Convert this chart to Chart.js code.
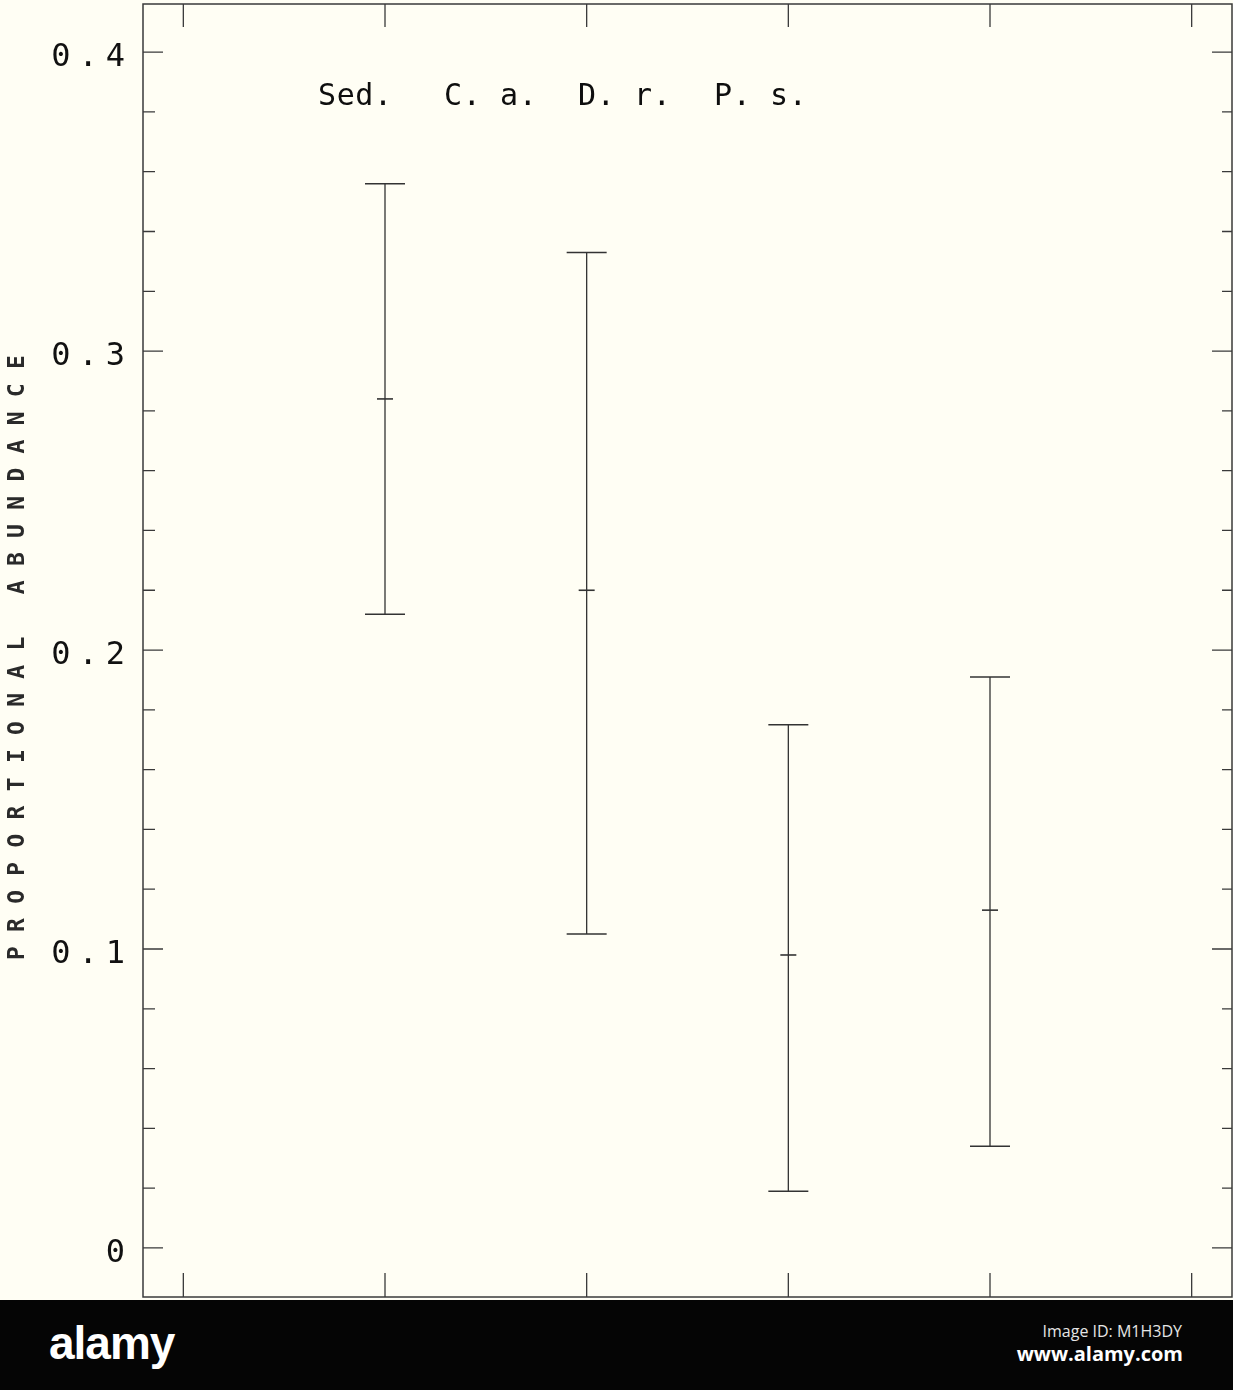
<!DOCTYPE html>
<html>
<head>
<meta charset="utf-8">
<script src="https://cdn.jsdelivr.net/npm/chart.js@4/dist/chart.umd.min.js"></script>
<style>
  html, body { margin: 0; padding: 0; background: #fffef4; }
  #wrap { position: relative; width: 1233px; height: 1300px; }
  #footer { position: relative; width: 1233px; height: 90px; background: #050505; overflow: hidden; }
  #footer .logo { position: absolute; left: 49px; top: 20px; font: bold 46px "Liberation Sans Narrow", "Liberation Sans", sans-serif; line-height: 1; color: #fff; letter-spacing: -1px; }
  #footer .id { position: absolute; right: 51px; top: 23px; font: 16px "Open Sans", sans-serif; line-height: 1; color: #e6e6e6; }
  #footer .url { position: absolute; right: 50px; top: 44px; font: bold 20px "Open Sans", sans-serif; line-height: 1; color: #fff; }
</style>
</head>
<body>
<div id="wrap"><canvas id="chart"></canvas></div>
<div id="footer">
  <div class="logo">alamy</div>
  <div class="id">Image ID: M1H3DY</div>
  <div class="url">www.alamy.com</div>
</div>
<script>
//groups and their interval values
const categories = ["Sed.", "C. a.", "D. r.", "P. s."];
const xPositions = [1, 2, 3, 4];
const upperValues = [0.356, 0.333, 0.175, 0.191];
const meanValues = [0.284, 0.220, 0.098, 0.113];
const lowerValues = [0.212, 0.105, 0.019, 0.034];

//axis ticks
const yTickLabels = [0, 0.1, 0.2, 0.3, 0.4];
const yMinorStep = 0.02;
const xTickValues = [0, 1, 2, 3, 4, 5];

const BG = "#fffef4";
const INK = "#333333";
const MONO = "DejaVu Sans Mono";

//canvas letter spacing around a draw call (plotter font is widely spaced)
function spaced(ctx, px, draw) {
  const prev = ctx.letterSpacing;
  ctx.letterSpacing = px + "px";
  draw();
  ctx.letterSpacing = prev || "0px";
}

//frame, inward ticks and group names
const plotterFrame = {
  id: "plotterFrame",
  beforeDraw(chart) {
    const { ctx } = chart;
    ctx.save();
    ctx.fillStyle = BG;
    ctx.fillRect(0, 0, chart.width, chart.height);
    ctx.restore();

    const y = chart.scales.y;
    if (!y.__spaced) {
      const labels = y.drawLabels;
      const title = y.drawTitle;
      y.drawLabels = function (area) { spaced(chart.ctx, 8, () => labels.call(this, area)); };
      y.drawTitle = function () { spaced(chart.ctx, 14.3, () => title.call(this)); };
      y.__spaced = true;
    }
  },
  afterDraw(chart) {
    const { ctx, chartArea: a, scales: { x, y } } = chart;
    ctx.save();
    ctx.strokeStyle = "#3a3a3a";
    ctx.lineWidth = 1.5;
    ctx.strokeRect(a.left, a.top, a.right - a.left, a.bottom - a.top);

    ctx.lineWidth = 1.3;
    ctx.beginPath();
    //major y ticks both sides
    yTickLabels.forEach((v) => {
      const py = y.getPixelForValue(v);
      ctx.moveTo(a.left, py); ctx.lineTo(a.left + 20, py);
      ctx.moveTo(a.right, py); ctx.lineTo(a.right - 20, py);
    });
    //minor y ticks
    for (let k = 1; k * yMinorStep < y.max; k++) {
      if (k % 5 === 0) continue;
      const py = y.getPixelForValue(k * yMinorStep);
      ctx.moveTo(a.left, py); ctx.lineTo(a.left + 12, py);
      ctx.moveTo(a.right, py); ctx.lineTo(a.right - 10, py);
    }
    //x ticks top and bottom
    xTickValues.forEach((v) => {
      const px = x.getPixelForValue(v);
      ctx.moveTo(px, a.top); ctx.lineTo(px, a.top + 23);
      ctx.moveTo(px, a.bottom); ctx.lineTo(px, a.bottom - 24);
    });
    ctx.stroke();

    //group names across the top
    const labelLeft = [318, 444, 578, 714];
    ctx.fillStyle = "#0e0e0e";
    ctx.font = "30px '" + MONO + "'";
    ctx.textAlign = "left";
    ctx.textBaseline = "alphabetic";
    spaced(ctx, 0.6, () => {
      categories.forEach((c, i) => ctx.fillText(c, labelLeft[i], 105));
    });
    ctx.restore();
  },
};

//vertical whiskers, broken between groups by null points
const whiskerData = [];
xPositions.forEach((xv, i) => {
  whiskerData.push({ x: xv, y: lowerValues[i] });
  whiskerData.push({ x: xv, y: upperValues[i] });
  whiskerData.push({ x: xv, y: null });
});

const capData = [];
xPositions.forEach((xv, i) => {
  capData.push({ x: xv, y: upperValues[i] });
  capData.push({ x: xv, y: lowerValues[i] });
});

const meanData = xPositions.map((xv, i) => ({ x: xv, y: meanValues[i] }));

const canvas = document.getElementById("chart");
new Chart(canvas, {
  type: "scatter",
  data: {
    datasets: [
      {
        label: "range",
        data: whiskerData,
        showLine: true,
        spanGaps: false,
        borderColor: INK,
        borderWidth: 1.3,
        pointRadius: 0,
      },
      {
        label: "caps",
        data: capData,
        pointStyle: "line",
        pointRadius: 20,
        borderColor: INK,
        borderWidth: 1.5,
      },
      {
        label: "mean",
        data: meanData,
        pointStyle: "line",
        pointRadius: 8,
        borderColor: INK,
        borderWidth: 1.6,
      },
    ],
  },
  options: {
    responsive: true,
    maintainAspectRatio: false,
    animation: false,
    layout: { autoPadding: false, padding: { top: 4, right: 1, bottom: 3, left: 0 } },
    plugins: {
      legend: { display: false },
      tooltip: { enabled: false },
    },
    scales: {
      x: { type: "linear", min: -0.2, max: 5.2, display: false },
      y: {
        type: "linear",
        min: -0.0164,
        max: 0.4161,
        afterBuildTicks: (s) => { s.ticks = yTickLabels.map((v) => ({ value: v })); },
        afterFit: (s) => { s.width = 143; s.paddingTop = 0; s.paddingBottom = 0; },
        grid: { display: false, drawTicks: false },
        border: { display: false },
        ticks: {
          font: { family: MONO, size: 32 },
          color: "#111111",
          padding: 10,
          labelOffset: 6,
          callback: (v) => (v === 0 ? "0" : Number(v).toFixed(1)),
        },
        title: {
          display: true,
          text: "PROPORTIONAL ABUNDANCE",
          font: { family: MONO, size: 23, weight: "bold" },
          color: "#2a2a2a",
          padding: { top: 4 },
        },
      },
    },
  },
  plugins: [plotterFrame],
});
</script>
</body>
</html>
